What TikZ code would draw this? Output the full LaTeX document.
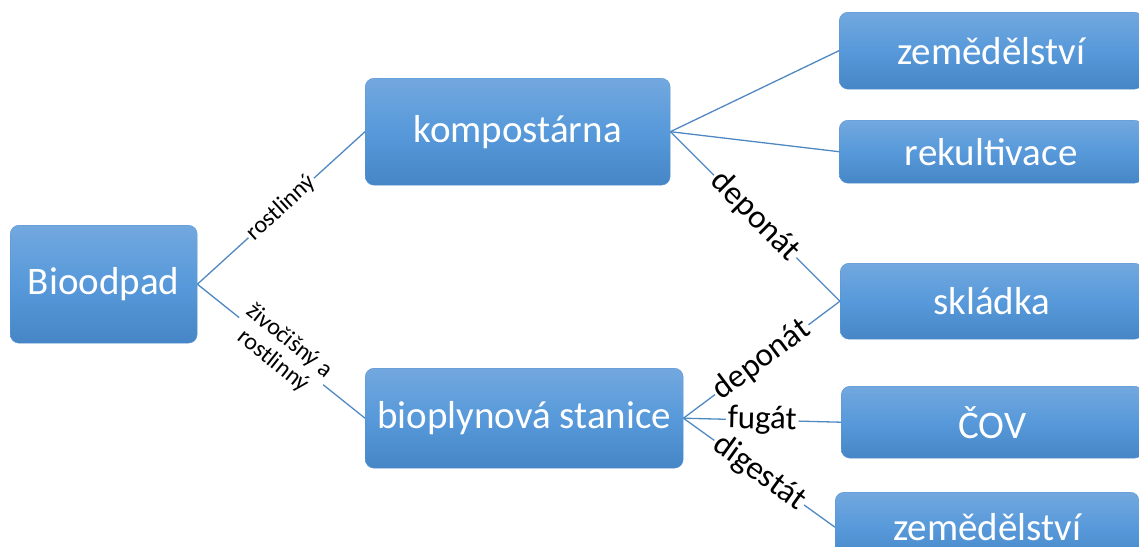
\documentclass[tikz,border=0pt]{standalone}
\usepackage{fontspec}
\setmainfont{Carlito}
\definecolor{boxtop}{HTML}{72A8DE}
\definecolor{boxmid}{HTML}{5799DA}
\definecolor{boxbot}{HTML}{4686C6}
\definecolor{boxedge}{HTML}{5A94D0}
\definecolor{linkcol}{HTML}{5088C2}
\tikzset{
  box/.style={rectangle, rounded corners=9pt, top color=boxtop, bottom color=boxbot, middle color=boxmid,
    draw=boxedge, line width=0.4pt, text=white, font=\fontsize{39}{47}\selectfont, inner sep=0pt, anchor=north west},
  link/.style={draw=linkcol, line width=1.3pt},
  lab/.style={fill=white, text=black, font=\fontsize{33}{38}\selectfont, inner sep=2pt, sloped, midway},
  slab/.style={fill=white, text=black, font=\fontsize{24}{26}\selectfont, inner sep=2pt, sloped, midway, align=center}
}
\begin{document}
\begin{tikzpicture}[x=1pt,y=-1pt]
\useasboundingbox (0,0) rectangle (1139,546);
\clip (0,0) rectangle (1139,546);
\node[box, minimum width=187pt, minimum height=118pt] (bio) at (10,225) {Bioodpad};
\node[box, minimum width=305pt, minimum height=107pt] (komp) at (365,78) {kompostárna};
\node[box, minimum width=318pt, minimum height=100pt] (bpl) at (365,368) {bioplynová stanice};
\node[box, minimum width=304pt, minimum height=77pt] (zem1) at (839,12) {zemědělství};
\node[box, minimum width=304pt, minimum height=63pt] (rek) at (839,120) {rekultivace};
\node[box, minimum width=303pt, minimum height=76pt] (skl) at (840,263) {skládka};
\node[box, minimum width=302pt, minimum height=72pt] (cov) at (841,386) {ČOV};
\node[box, minimum width=304pt, minimum height=70pt] (zem2) at (835,492) {zemědělství};

\draw[link] (bio.east) -- node[slab] {rostlinný} (komp.west);
\draw[link] (bio.east) -- node[slab] {živočišný a\\rostlinný} (bpl.west);
\draw[link] (komp.east) -- (zem1.west);
\draw[link] (komp.east) -- (rek.west);
\draw[link] (komp.east) -- node[lab] {deponát} (skl.west);
\draw[link] (bpl.east) -- node[lab] {deponát} (skl.west);
\draw[link] (bpl.east) -- node[lab] {fugát} (cov.west);
\draw[link] (bpl.east) -- node[lab] {digestát} (zem2.west);
\end{tikzpicture}
\end{document}
